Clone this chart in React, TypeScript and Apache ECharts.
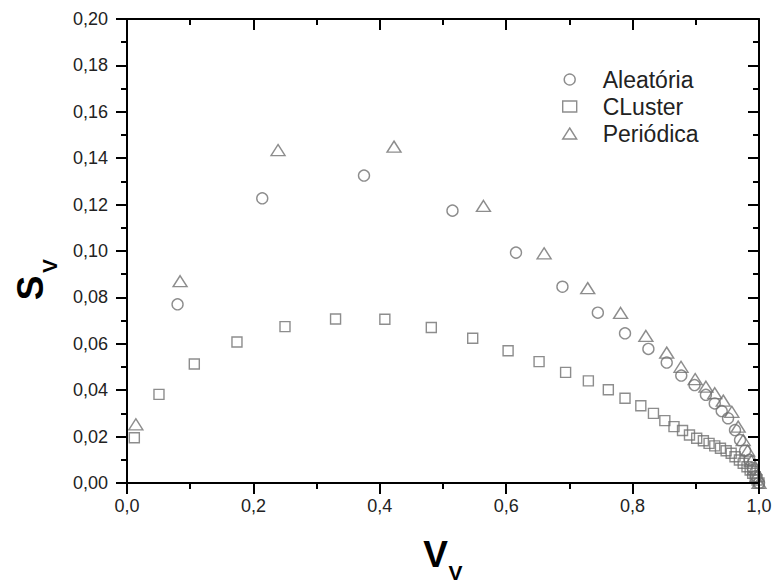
import React, { useEffect, useRef } from "react";
import * as echarts from "echarts";

const seriesNames = ["Aleatória", "CLuster", "Periódica"];

const aleatoria: [number, number][] = [
  [0.080, 0.077], [0.214, 0.1227], [0.375, 0.1325], [0.515, 0.1174],
  [0.6155, 0.0993], [0.689, 0.0846], [0.745, 0.0734], [0.788, 0.0645], [0.825, 0.0578],
  [0.854, 0.0519], [0.877, 0.0463], [0.898, 0.0422], [0.916, 0.038], [0.930, 0.0343],
  [0.941, 0.031], [0.951, 0.0279], [0.962, 0.0228], [0.970, 0.0185], [0.978, 0.014],
  [0.985, 0.010], [0.990, 0.0065], [0.995, 0.003], [1.0, 0.0],
];

const cluster: [number, number][] = [
  [0.0116, 0.0195], [0.0506, 0.0382], [0.1065, 0.0513], [0.174, 0.0608],
  [0.25, 0.0674], [0.330, 0.0707], [0.408, 0.0706], [0.4815, 0.067], [0.547, 0.0624],
  [0.603, 0.057], [0.652, 0.0523], [0.694, 0.0477], [0.730, 0.044], [0.7616, 0.0402],
  [0.788, 0.0365], [0.813, 0.0333], [0.833, 0.030], [0.851, 0.0269], [0.8655, 0.0243],
  [0.879, 0.0226], [0.890, 0.0207], [0.9014, 0.0193], [0.912, 0.0182], [0.921, 0.0171],
  [0.930, 0.016], [0.939, 0.015], [0.948, 0.0139], [0.956, 0.0128], [0.962, 0.0113],
  [0.969, 0.0099], [0.975, 0.0085], [0.981, 0.007], [0.986, 0.0056], [0.990, 0.0042],
  [0.994, 0.0027], [0.997, 0.0013], [1.0, 0],
];

const periodica: [number, number][] = [
  [0.014, 0.0253], [0.084, 0.087], [0.239, 0.1435], [0.4225, 0.145],
  [0.564, 0.1194], [0.66, 0.099], [0.729, 0.084], [0.781, 0.0733], [0.821, 0.0634],
  [0.854, 0.0562], [0.8766, 0.0501], [0.899, 0.0448], [0.916, 0.0415], [0.930, 0.0387],
  [0.9435, 0.0355], [0.957, 0.0307], [0.967, 0.0243], [0.975, 0.0185], [0.982, 0.014],
  [0.988, 0.0095], [0.993, 0.006], [0.997, 0.003], [1.0, 0],
];

const xTitle = "V";
const xTitleSub = "V";
const yTitle = "S";
const yTitleSub = "V";

const FONT = "Arial, 'Liberation Sans', sans-serif";
const MARK = "#707070";
const AXIS = "#000";

export default function App() {
  const ref = useRef<HTMLDivElement>(null);
  useEffect(() => {
    if (!ref.current) return;
    const chart = echarts.init(ref.current, undefined, { renderer: "svg" });

    const tickStyle = { color: AXIS, width: 2 };
    const baseAxis = (pos: string, isX: boolean, mirror: boolean) => ({
      type: "value",
      position: pos,
      min: 0,
      max: isX ? 1 : 0.2,
      interval: isX ? 0.2 : 0.02,
      z: 5,
      axisLine: { show: true, onZero: false, lineStyle: { color: AXIS, width: 2 } },
      axisTick: { show: true, inside: mirror, length: 11, lineStyle: tickStyle },
      minorTick: { show: true, splitNumber: 2, length: 6, lineStyle: tickStyle },
      splitLine: { show: false },
      minorSplitLine: { show: false },
      axisLabel: mirror
        ? { show: false }
        : {
            show: true,
            color: "#222",
            fontSize: 18,
            fontFamily: FONT,
            margin: isX ? 14 : 19,
            formatter: (v: number) =>
              isX ? v.toFixed(1).replace(".", ",") : v.toFixed(2).replace(".", ","),
          },
    });

    const itemStyle = { color: "rgba(0,0,0,0)", borderColor: MARK, borderWidth: 1.4 };

    chart.setOption({
      animation: false,
      backgroundColor: "#fff",
      grid: { left: 127, right: 14, top: 19, bottom: 105, containLabel: false, outerBoundsMode: "none" },
      xAxis: [baseAxis("bottom", true, false), baseAxis("top", true, true)],
      yAxis: [baseAxis("left", false, false), baseAxis("right", false, true)],
      legend: {
        orient: "vertical",
        left: 557,
        top: 63,
        itemWidth: 14,
        itemHeight: 11,
        itemGap: 4,
        textStyle: { fontSize: 23, fontFamily: FONT, color: "#222", padding: [0, 0, 0, 21] },
        itemStyle: { color: "rgba(0,0,0,0)", borderColor: MARK, borderWidth: 1.4 },
        data: seriesNames,
      },
      series: [
        {
          name: seriesNames[0],
          type: "scatter",
          symbol: "circle",
          symbolSize: 11,
          itemStyle,
          data: aleatoria,
        },
        {
          name: seriesNames[1],
          type: "scatter",
          symbol: "rect",
          symbolSize: 10,
          itemStyle,
          data: cluster,
        },
        {
          name: seriesNames[2],
          type: "scatter",
          symbol: "triangle",
          symbolSize: [14, 11],
          itemStyle,
          data: periodica,
        },
      ],
      graphic: [
        {
          type: "text",
          x: 30,
          y: 288,
          rotation: Math.PI / 2,
          style: { text: yTitle, font: `bold 37px ${FONT}`, fill: "#000", textAlign: "center", textVerticalAlign: "middle" },
        },
        {
          type: "text",
          x: 49,
          y: 266,
          rotation: Math.PI / 2,
          style: { text: yTitleSub, font: `bold 21px ${FONT}`, fill: "#000", textAlign: "center", textVerticalAlign: "middle" },
        },
        {
          type: "text",
          x: 435.5,
          y: 554,
          style: { text: xTitle, font: `bold 37px ${FONT}`, fill: "#000", textAlign: "center", textVerticalAlign: "middle" },
        },
        {
          type: "text",
          x: 455.5,
          y: 572,
          style: { text: xTitleSub, font: `bold 21px ${FONT}`, fill: "#000", textAlign: "center", textVerticalAlign: "middle" },
        },
      ],
    });
    return () => chart.dispose();
  }, []);
  return <div ref={ref} style={{ width: 773, height: 588, position: "absolute", left: 0, top: 0 }} />;
}
